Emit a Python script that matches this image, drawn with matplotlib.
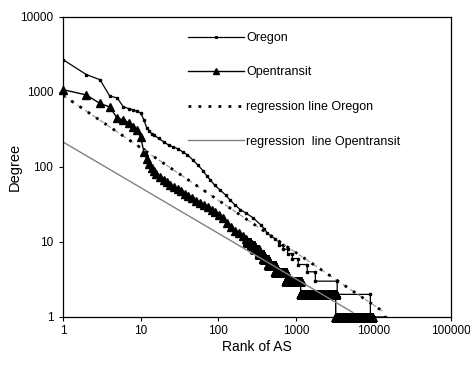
import numpy as np
import matplotlib
matplotlib.use("Agg")
import matplotlib.pyplot as plt
from matplotlib.ticker import FixedLocator, FuncFormatter, NullLocator

plt.rcParams["font.family"] = ["Liberation Sans", "DejaVu Sans"]

# Oregon: rank -> degree (step ends kept for low degrees)
oregon_rank = [1, 2, 3, 4, 5, 6, 7, 8, 9, 10, 11, 12, 13, 14, 15, 17, 20, 23, 26, 30,
               35, 40, 47, 55, 64, 72, 79, 90, 106, 125, 142, 165, 192, 230, 280, 350,
               390, 430, 480, 540, 610, 611, 690, 691, 780, 781, 900, 901, 1070, 1071,
               1400, 1401, 1780, 1781, 3400, 3401, 9100, 9101, 14000]
oregon_deg = [2690, 1700, 1450, 880, 830, 630, 600, 575, 550, 525, 425, 330, 300, 275,
              265, 240, 215, 195, 185, 175, 158, 145, 124, 105, 88, 75, 67, 57, 49, 42,
              36, 31, 27, 24, 21, 17, 15, 13, 12, 11, 10, 9, 9, 8, 8, 7, 7, 6, 6, 5,
              5, 4, 4, 3, 3, 2, 2, 1, 1]

# Opentransit: first ranks one by one, then plateaus of equal degree
ot_rank_head = [1, 2, 3, 4, 5, 6, 7, 8, 9, 10, 11, 12, 13, 14, 15, 16, 18, 20, 22, 24,
                27, 30, 33, 37, 41, 46, 52, 58, 65, 73, 82, 92, 103, 116, 130, 146,
                164, 184, 206, 230]
ot_deg_head = [1070, 910, 700, 630, 445, 425, 390, 340, 310, 250, 160, 128, 110, 97,
               88, 80, 73, 66, 62, 58, 54, 50, 47, 44, 41, 38, 35, 33, 31, 29, 27, 25,
               23, 21, 18, 16, 14, 13, 12, 11]
ot_plateau_deg = [10, 9, 8, 7, 6, 5, 4, 3, 2, 1]
ot_plateau_end = [260, 290, 330, 380, 440, 540, 740, 1150, 3250, 9500]

# regression lines, end points
reg_oregon_rank = [1, 13000]
reg_oregon_deg = [900, 1.2]
reg_ot_rank = [1, 5400]
reg_ot_deg = [215, 1.15]

ot_rank = list(ot_rank_head)
ot_deg = list(ot_deg_head)
start = ot_rank_head[-1] + 1
for d, end in zip(ot_plateau_deg, ot_plateau_end):
    r = np.arange(start, end + 1)
    ot_rank.extend(r)
    ot_deg.extend([d] * len(r))
    start = end + 1

fig = plt.figure(figsize=(4.70, 3.66), dpi=100)
ax = fig.add_axes([0.134, 0.134, 0.826, 0.820])

l1, = ax.plot(oregon_rank, oregon_deg, color="black", lw=0.9, marker="s", ms=1.5,
              label="Oregon")
l2, = ax.plot(ot_rank, ot_deg, color="black", lw=1.0, marker="^", ms=6.2,
              label="Opentransit", clip_on=False)
ax.plot(reg_oregon_rank, reg_oregon_deg, color="#909090", lw=0.8, ls=(0, (4, 4)))
l3, = ax.plot(reg_oregon_rank, reg_oregon_deg, color="black", lw=2.0,
              ls=(0, (1, 2.6)), label="regression line Oregon")
l4, = ax.plot(reg_ot_rank, reg_ot_deg, color="#808080", lw=1.0,
              label="regression  line Opentransit")

ax.set_xscale("log")
ax.set_yscale("log")
ax.set_xlim(1, 100000)
ax.set_ylim(1, 10000)
ax.xaxis.set_major_locator(FixedLocator([1, 10, 100, 1000, 10000, 100000]))
ax.yaxis.set_major_locator(FixedLocator([1, 10, 100, 1000, 10000]))
ax.xaxis.set_minor_locator(NullLocator())
ax.yaxis.set_minor_locator(NullLocator())
fmt = FuncFormatter(lambda v, p: "%d" % v)
ax.xaxis.set_major_formatter(fmt)
ax.yaxis.set_major_formatter(fmt)
ax.tick_params(direction="out", length=3, width=0.8, labelsize=8.5)
ax.tick_params(axis="x", pad=3)
ax.tick_params(axis="y", pad=4)
for s in ax.spines.values():
    s.set_linewidth(0.9)

ax.set_xlabel("Rank of AS", fontsize=10)
ax.set_ylabel("Degree", fontsize=10.5)
ax.xaxis.set_label_coords(0.5, -0.078)
ax.yaxis.set_label_coords(-0.106, 0.5)

ax.legend(handles=[l1, l2, l3, l4], loc="upper left",
          bbox_to_anchor=(188 / 470, 1 - 32 / 366), bbox_transform=fig.transFigure,
          frameon=False, fontsize=9, handlelength=4.5, handletextpad=0.15,
          labelspacing=1.8, borderpad=0, borderaxespad=0, numpoints=1,
          markerscale=0.8)

fig.savefig("out.png", dpi=100)
